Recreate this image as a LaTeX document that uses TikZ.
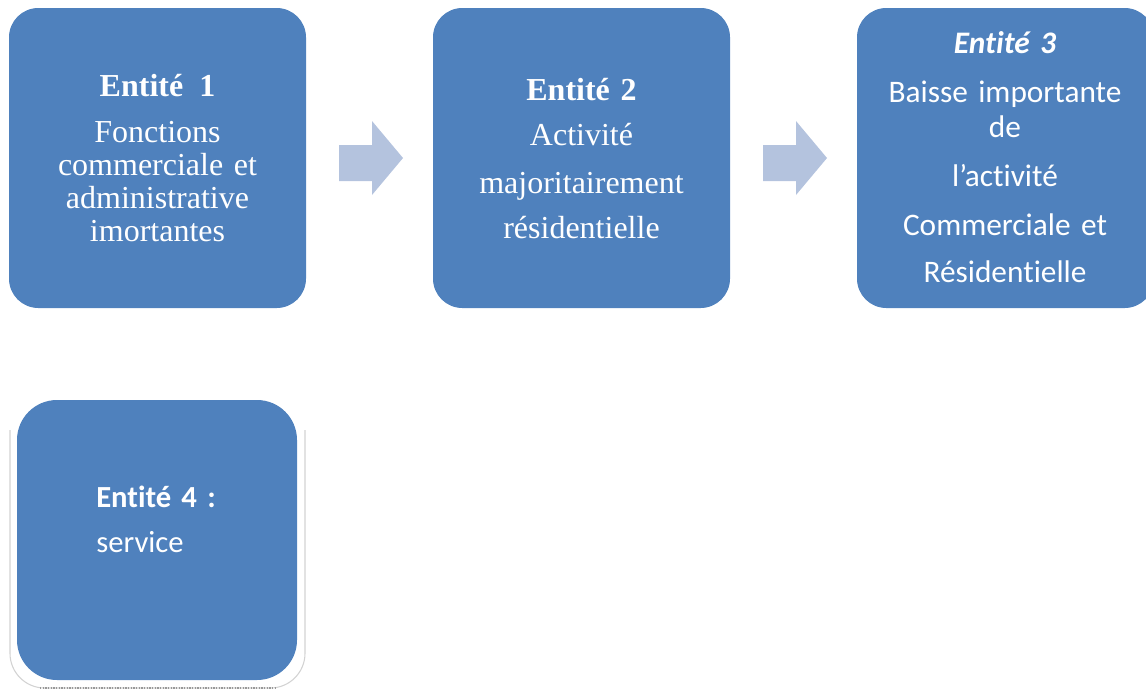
\documentclass[tikz,border=0pt]{standalone}
\usepackage{fontspec}
\setmainfont{Liberation Serif}
\newfontfamily\calibri[Ligatures={NoCommon}]{Carlito}
\definecolor{boxblue}{HTML}{4F81BD}
\definecolor{arrowblue}{HTML}{B4C3DE}
\tikzset{
  entbox/.style={draw=none, fill=boxblue, rounded corners=22pt, minimum width=222.75pt, minimum height=225pt, inner sep=0pt},
  enttext/.style={text=white, align=center, text width=215pt, inner sep=0pt, anchor=base},
  blockarrow/.style={fill=arrowblue, draw=none}
}
\begin{document}
\begin{tikzpicture}[x=0.75pt, y=-0.75pt]
\useasboundingbox (0,0) rectangle (1146,690);
\clip (0,0) rectangle (1146,690);
% shadow of box 4
\draw[gray!35, line width=0.8pt, rounded corners=26pt] (10,430) -- (10,688) -- (305,688) -- (305,430);
\draw[gray!80, line width=1pt, densely dotted] (40,688) -- (275,688);
% boxes
\node[entbox] (e1) at (157.5,158) {};
\node[entbox] (e2) at (581.5,158) {};
\node[entbox] (e3) at (1005.5,158) {};
\node[entbox, rounded corners=30pt, minimum width=210pt, minimum height=210pt] (e4) at (157,540) {};
% texts
\node[enttext, font=\fontsize{24}{24.75}\selectfont] (t1) at (157.5,96)
  {\textbf{Entité\hspace{0.5em}1}\\[9.75pt] Fonctions\\ commerciale et\\ administrative\\ imortantes};
\node[enttext, font=\fontsize{24}{33.75}\selectfont] (t2) at (581.5,100)
  {\textbf{Entité 2}\\ Activité\\[2.25pt] majoritairement\\ résidentielle};
\node[enttext, font=\calibri\fontsize{23.5}{26.25}\selectfont] (t3) at (1005,53)
  {\textbf{\textit{Entité 3}}\\[10.5pt] Baisse importante\\ de\\[10.5pt] l’activité\\[10.5pt] Commerciale et\\[9pt] Résidentielle};
\node[enttext, align=left, text width=150pt, anchor=base west, font=\calibri\fontsize{23}{33.75}\selectfont] (t4) at (96,507)
  {\textbf{Entité 4 :}\\ service};
% block arrows
\path[blockarrow] (339,145) -- (372,145) -- (372,121) -- (403,158) -- (372,195) -- (372,181) -- (339,181) -- cycle;
\path[blockarrow] (763,145) -- (796,145) -- (796,121) -- (827,158) -- (796,195) -- (796,181) -- (763,181) -- cycle;
\end{tikzpicture}
\end{document}
